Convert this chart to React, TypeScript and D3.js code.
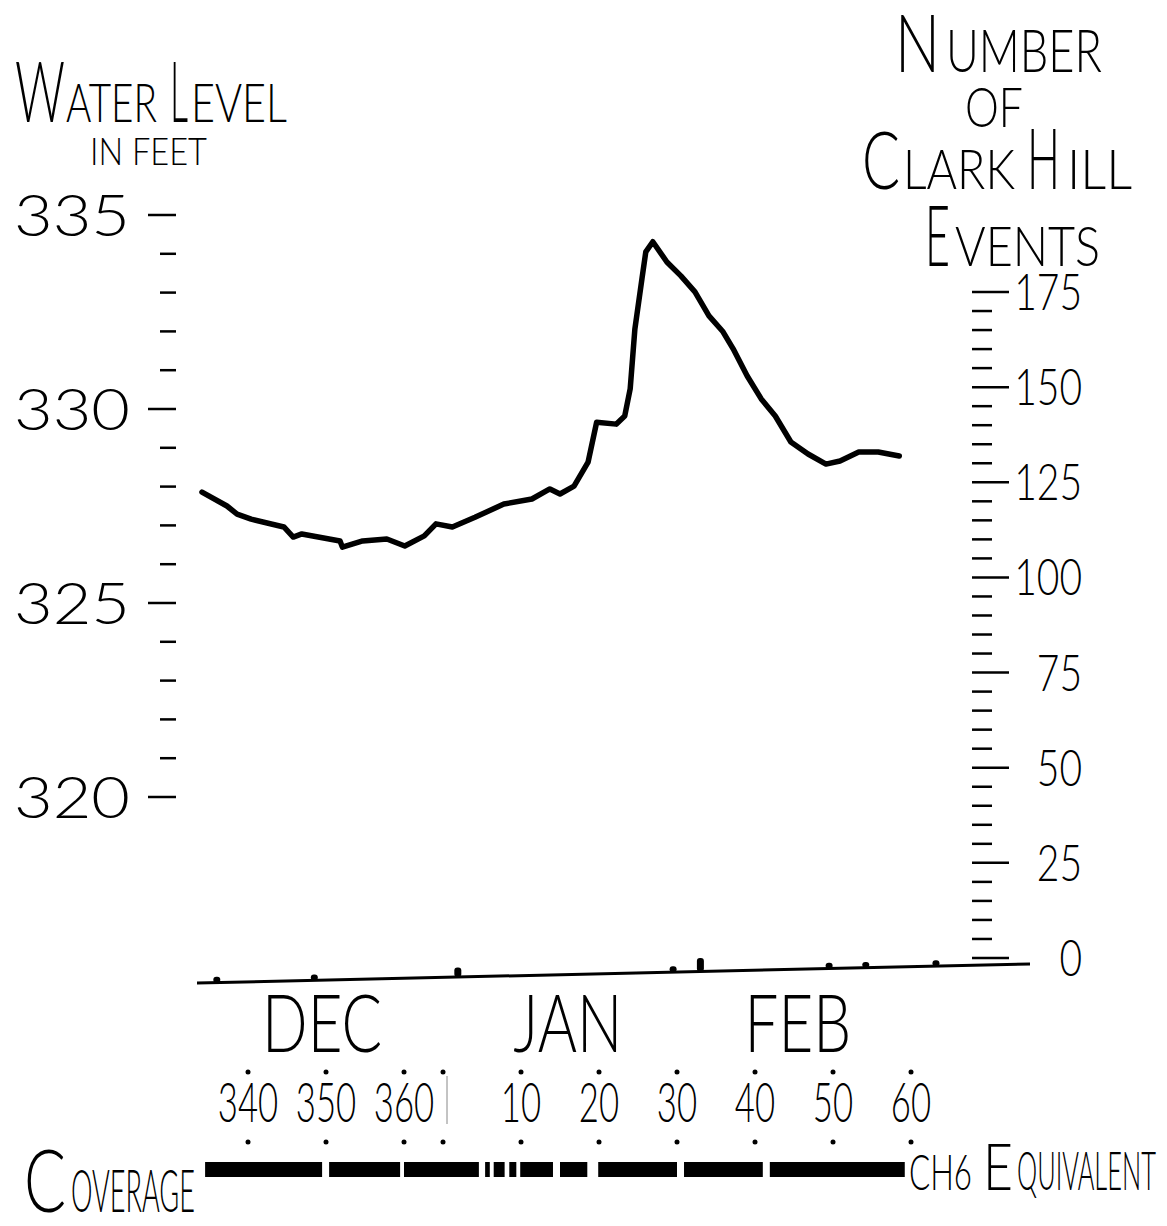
import React, { useLayoutEffect, useRef, useState } from "react";
import * as d3 from "d3";

// water level readings: day of season (past 365 = new year) and feet
const levelDays = [334.1, 337.3, 338.6, 340.4, 344.6, 345.8, 346.9, 351.8, 352.1, 354.7, 357.8, 360.1, 362.6, 364.1, 366.2, 369.1, 372.8, 376.4, 378.7, 380.0, 381.8, 383.6, 384.7, 387.2, 388.3, 389.0, 389.6, 390.5, 391.0, 391.9, 393.7, 395.5, 397.3, 399.1, 400.9, 402.2, 404.0, 405.8, 407.6, 409.6, 411.8, 414.1, 415.9, 418.3, 420.8, 423.5];
const levelFeet = [327.86, 327.5, 327.29, 327.16, 326.96, 326.7, 326.78, 326.6, 326.44, 326.6, 326.65, 326.47, 326.73, 327.04, 326.96, 327.21, 327.55, 327.68, 327.94, 327.81, 328.01, 328.63, 329.66, 329.61, 329.82, 330.52, 332.06, 333.35, 334.05, 334.31, 333.79, 333.43, 333.02, 332.4, 331.99, 331.55, 330.85, 330.26, 329.82, 329.15, 328.84, 328.58, 328.66, 328.89, 328.89, 328.79];

// Clark Hill events marked along the bottom
const eventDays = [336, 348.5, 366.9, 394.5, 398, 414.5, 419.2, 428.2];
const eventCounts = [1, 1, 2, 1, 3, 1, 1, 1];

const feetTicks = [320, 325, 330, 335];
const eventTicks = [0, 25, 50, 75, 100, 125, 150, 175];
const dayTicks = [340, 350, 360, 375, 385, 395, 405, 415, 425];
const dayLabels = ["340", "350", "360", "10", "20", "30", "40", "50", "60"];
const months = ["DEC", "JAN", "FEB"];
const monthDays = [349.5, 381, 410.5];

// CH6 coverage: full span and the gaps in it
const coverageSpan = [334.5, 424.2];
const coverageGaps = [[349.5, 350.4], [359.5, 360.0], [369.6, 370.4], [371.0, 371.5], [372.9, 373.5], [374.4, 374.9], [379.1, 380.0], [383.5, 384.9], [395.0, 395.9], [406.0, 406.9]];

const font = "Lato, 'Open Sans', 'DejaVu Sans', sans-serif";
const txt = { fontFamily: font, fontWeight: 300, fill: "#000" };

// hand lettered titles: big first letter, small caps after; [text, x, width, size]
type Piece = [string, number, number, number];
const waterTitle: Piece[] = [["W", 15, 50, 84], ["ATER", 66, 91, 53], ["L", 170, 18, 84], ["EVEL", 191, 96, 53]];
const feetTitle: Piece[] = [["IN FEET", 90, 117, 38]];
const numberTitle: Piece[] = [["N", 895, 45, 80], ["UMBER", 946, 156, 60]];
const ofTitle: Piece[] = [["OF", 965, 58, 56]];
const clarkTitle: Piece[] = [["C", 862, 38, 81], ["LARK", 903, 112, 55], ["H", 1027, 33, 84], ["ILL", 1067, 65, 55]];
const eventsTitle: Piece[] = [["E", 925, 25, 84], ["VENTS", 955, 145, 56]];
const coverageTitle: Piece[] = [["C", 24, 42, 87], ["OVERAGE", 71, 124, 59]];
const ch6Title: Piece[] = [["CH6", 909, 63, 49], ["E", 983, 30, 66], ["QUIVALENT", 1017, 139, 53]];

// squeeze a word to the width it has in the drawing
function Fit({ s, x, y, w, size }: { s: string; x: number; y: number; w: number; size: number }) {
  const ref = useRef<SVGTextElement>(null);
  const [sx, setSx] = useState(1);
  useLayoutEffect(() => {
    const el = ref.current;
    if (el) {
      const len = el.getComputedTextLength();
      if (len > 0) setSx(w / len);
    }
  }, [s, w, size]);
  return (
    <text ref={ref} transform={`translate(${x},${y}) scale(${sx},1)`} {...txt} fontSize={size}>{s}</text>
  );
}

const title = (pieces: Piece[], y: number) =>
  pieces.map(([s, px, w, fs]) => <Fit key={s + px} s={s} x={px} y={y} w={w} size={fs} />);

export default function App() {
  const x = d3.scaleLinear().domain([340, 425]).range([248, 911]);
  const yFeet = d3.scaleLinear().domain([320, 335]).range([797, 215]);
  const yEvents = d3.scaleLinear().domain([0, 175]).range([958, 292]);

  // the hand-drawn baseline tilts up a little to the right
  const baseX = [197, 1030];
  const baseYs = [983, 964];
  const baseY = d3.scaleLinear().domain(baseX).range(baseYs);

  const line = d3.line<number>()
    .x((d, i) => x(levelDays[i]))
    .y((d) => yFeet(d))
    .curve(d3.curveLinear);

  const coverage: number[][] = [];
  let start = coverageSpan[0];
  coverageGaps.forEach(([a, b]) => {
    coverage.push([start, a]);
    start = b;
  });
  coverage.push([start, coverageSpan[1]]);

  const dotDays = [...dayTicks.slice(0, 3), 365, ...dayTicks.slice(3)];

  return (
    <svg width={1167} height={1226} style={{ position: "absolute", left: 0, top: 0, background: "#fff" }}>
      {/* titles */}
      {title(waterTitle, 122)}
      {title(feetTitle, 165)}
      {title(numberTitle, 72)}
      {title(ofTitle, 127)}
      {title(clarkTitle, 189)}
      {title(eventsTitle, 266)}

      {/* left axis */}
      {d3.range(320, 335.5, 1).map((t) => {
        const major = t % 5 === 0;
        return <line key={t} x1={major ? 148 : 160} x2={176} y1={yFeet(t)} y2={yFeet(t)} stroke="#000" strokeWidth={2.5} />;
      })}
      {feetTicks.map((t) => (
        <text key={t} transform={`translate(130,${yFeet(t) + 21}) scale(1.15,1)`} textAnchor="end" {...txt} fontSize={58}>{t}</text>
      ))}

      {/* right axis */}
      {d3.range(0, 176, 5).map((t) => {
        const major = t % 25 === 0;
        return <line key={t} x1={972} x2={major ? 1009 : 992} y1={yEvents(t)} y2={yEvents(t)} stroke="#000" strokeWidth={2.5} />;
      })}
      {eventTicks.map((t) => (
        <text key={t} transform={`translate(1082,${yEvents(t) + 18}) scale(0.75,1)`} textAnchor="end" {...txt} fontSize={52}>{t}</text>
      ))}

      {/* baseline and events */}
      <line x1={baseX[0]} x2={baseX[1]} y1={baseYs[0]} y2={baseYs[1]} stroke="#000" strokeWidth={3} />
      {eventDays.map((d, i) => {
        const bx = x(d);
        const h = yEvents(0) - yEvents(eventCounts[i]);
        return <rect key={d} x={bx - 3.5} y={baseY(bx) - h - 2} width={7} height={h + 2} rx={3} fill="#000" />;
      })}

      {/* water level */}
      <path d={line(levelFeet) || ""} fill="none" stroke="#000" strokeWidth={5.5} strokeLinejoin="round" strokeLinecap="round" />

      {/* months */}
      {months.map((m, i) => (
        <text key={m} transform={`translate(${x(monthDays[i])},1052) scale(0.75,1)`} textAnchor="middle" {...txt} fontSize={80}>{m}</text>
      ))}

      {/* day numbers with dots above and below */}
      {dotDays.map((d) => (
        <g key={d}>
          <circle cx={x(d)} cy={1072} r={2.5} fill="#000" />
          <circle cx={x(d)} cy={1142} r={2.5} fill="#000" />
        </g>
      ))}
      <line x1={x(365) + 4} x2={x(365) + 4} y1={1076} y2={1124} stroke="#888" strokeWidth={1} />
      {dayTicks.map((d, i) => (
        <text key={d} transform={`translate(${x(d)},1122) scale(0.62,1)`} textAnchor="middle" {...txt} fontSize={56}>{dayLabels[i]}</text>
      ))}

      {/* coverage bar */}
      {coverage.map(([a, b]) => (
        <rect key={a} x={x(a)} y={1162} width={Math.max(0, x(b) - x(a))} height={15} fill="#000" />
      ))}
      {title(coverageTitle, 1212)}
      {title(ch6Title, 1190)}
    </svg>
  );
}
